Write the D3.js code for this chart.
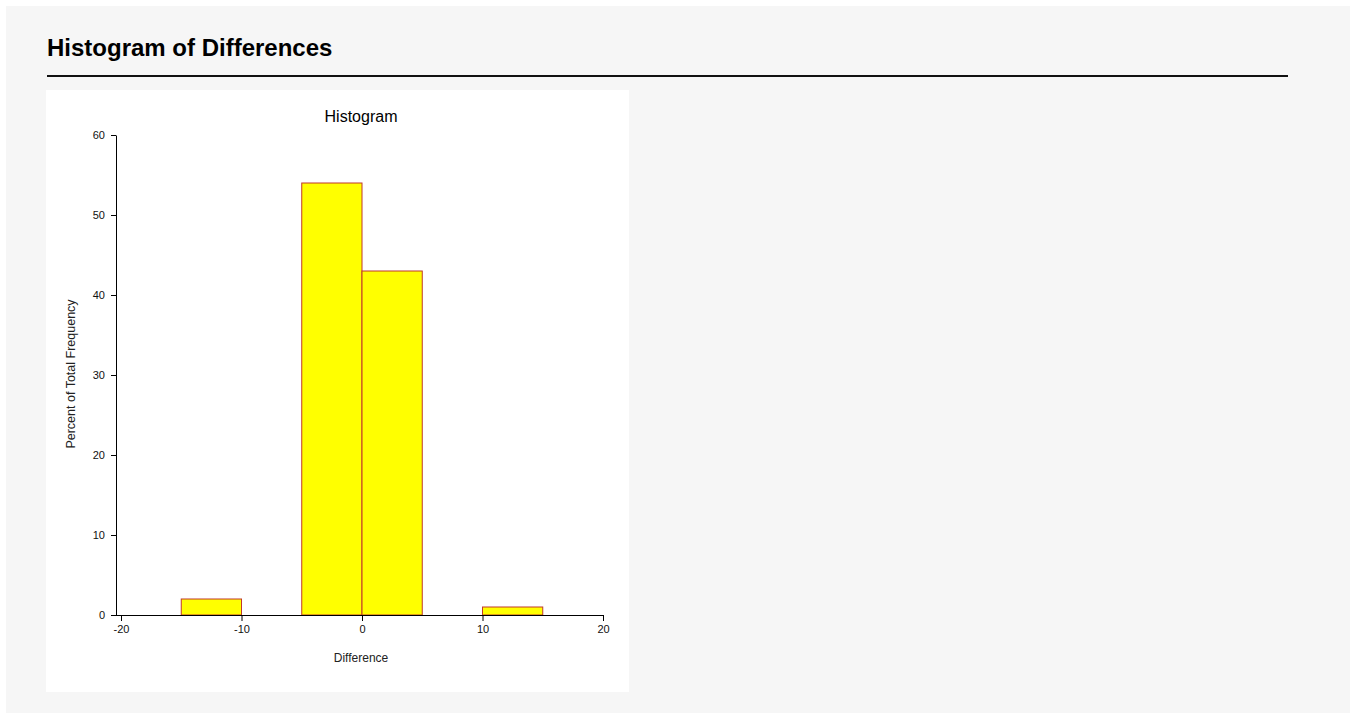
<!DOCTYPE html>
<html>
<head>
<meta charset="utf-8">
<script src="https://cdn.jsdelivr.net/npm/d3@7"></script>
<style>
  body { margin: 0; background: #ffffff; font-family: Arial, "Liberation Sans", sans-serif; }
</style>
</head>
<body>
<script>
// Histogram bins (percent of total frequency)
var binStarts = [-15, -5, 0, 10];
var binEnds = [-10, 0, 5, 15];
var percents = [2, 54, 43, 1];
var xTicks = [-20, -10, 0, 10, 20];
var yTicks = [0, 10, 20, 30, 40, 50, 60];

var svg = d3.select("body").append("svg")
    .attr("width", 1356)
    .attr("height", 719);

// page panel
svg.append("rect")
    .attr("x", 6).attr("y", 6)
    .attr("width", 1344).attr("height", 707)
    .style("fill", "#f6f6f6");

svg.append("text")
    .attr("x", 47).attr("y", 56)
    .style("font-size", "24px")
    .style("font-weight", "bold")
    .style("fill", "#000")
    .text("Histogram of Differences");

svg.append("line")
    .attr("x1", 47).attr("x2", 1288)
    .attr("y1", 76).attr("y2", 76)
    .style("stroke", "#111")
    .style("stroke-width", 2);

// white chart box
svg.append("rect")
    .attr("x", 46).attr("y", 90)
    .attr("width", 583).attr("height", 602)
    .style("fill", "#ffffff");

var x = d3.scaleLinear().domain([-20, 20]).range([121, 603]);
var y = d3.scaleLinear().domain([0, 60]).range([615, 135]);

svg.append("text")
    .attr("x", 361).attr("y", 122)
    .attr("text-anchor", "middle")
    .style("font-size", "16px")
    .style("fill", "#000")
    .text("Histogram");

// bars
svg.selectAll("rect.bar")
    .data(percents)
    .enter().append("rect")
    .attr("class", "bar")
    .attr("x", function(d, i) { return x(binStarts[i]); })
    .attr("width", function(d, i) { return x(binEnds[i]) - x(binStarts[i]); })
    .attr("y", function(d) { return y(d); })
    .attr("height", function(d) { return y(0) - y(d); })
    .style("fill", "#ffff00")
    .style("stroke", "#c0392b")
    .style("stroke-width", 1);

// x axis, plain hyphen for negatives like the original
var xAxis = svg.append("g")
    .attr("transform", "translate(0," + y(0) + ")")
    .call(d3.axisBottom(x).tickValues(xTicks).tickFormat(function(d) { return String(d); })
        .tickSize(6).tickSizeOuter(0).tickPadding(4));
xAxis.select(".domain").attr("d", "M116,0.5H" + x(20));

// y axis
var yAxis = svg.append("g")
    .attr("transform", "translate(116,0)")
    .call(d3.axisLeft(y).tickValues(yTicks).tickSize(5).tickSizeOuter(0).tickPadding(6));

svg.selectAll(".tick text")
    .style("font-size", "11px")
    .style("font-family", "Arial, 'Liberation Sans', sans-serif")
    .style("fill", "#111");

svg.append("text")
    .attr("x", 361).attr("y", 662)
    .attr("text-anchor", "middle")
    .style("font-size", "12px")
    .style("fill", "#222")
    .text("Difference");

svg.append("text")
    .attr("transform", "translate(75,374) rotate(-90)")
    .attr("text-anchor", "middle")
    .style("font-size", "12.5px")
    .style("fill", "#222")
    .text("Percent of Total Frequency");
</script>
</body>
</html>
